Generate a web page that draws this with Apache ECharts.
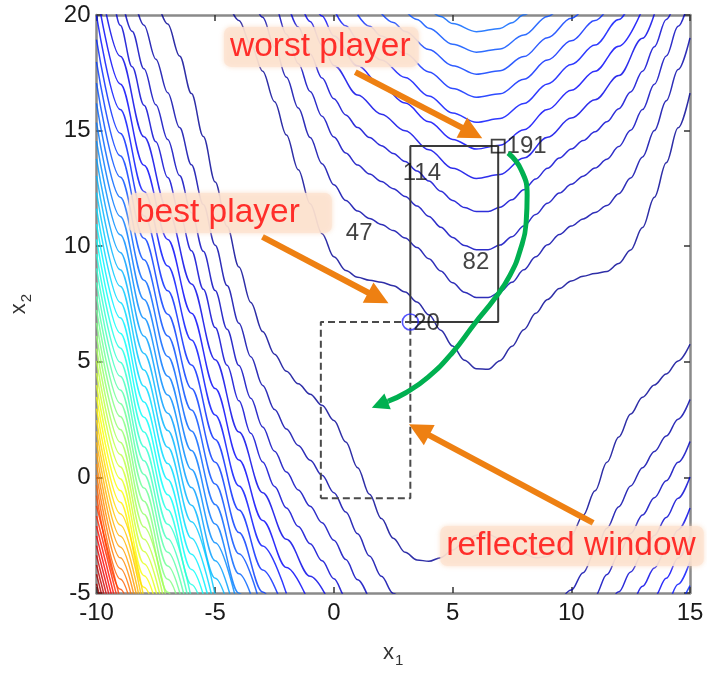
<!DOCTYPE html>
<html>
<head>
<meta charset="utf-8">
<script src="https://cdn.jsdelivr.net/npm/echarts@6/dist/echarts.min.js"></script>
<style>
  html, body { margin: 0; padding: 0; background: #ffffff; }
  #chart { width: 707px; height: 674px; }
</style>
</head>
<body>
<div id="chart"></div>
<script>
// ---- axes ----
const xTicks = [-10, -5, 0, 5, 10, 15];
const yTicks = [-5, 0, 5, 10, 15, 20];
const levelSteps = 50;           // contour level k is coloured jet(k / levelSteps)

// ---- contour lines: branch above the curved valley (k = level index) ----
const upperBranches = [
  { k: 1, x0: -4.5, dx: 0.5, y: [20.70,19.76,18.73,17.57,16.25,14.81,13.31,11.84,10.54,9.54,8.95,8.66,8.53,8.44,8.29,8.02,7.59,7.03,6.37,5.68,5.07,4.70,4.68,5.05,5.67,6.39,7.10,7.70,8.17,8.50,8.70,8.82,8.91,9.25,9.84,10.81,12.12,13.61,15.12,16.62] },
  { k: 2, x0: -3.5, dx: 0.5, y: [21.08,19.90,18.64,17.31,15.98,14.70,13.57,12.66,11.98,11.52,11.20,10.94,10.68,10.35,9.94,9.46,8.93,8.42,8.01,7.78,7.78,8.02,8.44,8.98,9.54,10.06,10.51,10.87,11.18,11.46,11.76,12.27,12.95,13.86,15.00,16.29,17.64,19.01] },
  { k: 3, x0: -3, dx: 0.5, y: [21.70,20.45,19.17,17.90,16.69,15.62,14.72,14.03,13.51,13.12,12.80,12.49,12.15,11.74,11.29,10.82,10.38,10.03,9.85,9.85,10.05,10.41,10.87,11.37,11.86,12.30,12.68,13.03,13.38,13.76,14.31,15.01,15.91,17.00,18.23,19.51,20.83] },
  { k: 4, x0: -2, dx: 0.5, y: [20.72,19.48,18.31,17.27,16.38,15.68,15.13,14.70,14.35,14.01,13.66,13.25,12.82,12.38,11.98,11.67,11.50,11.50,11.69,12.01,12.44,12.91,13.37,13.81,14.20,14.57,14.95,15.38,15.95,16.67,17.57,18.63,19.81,21.06] },
  { k: 5, pts: [[-1.5,20.87],[-1,19.72],[-0.5,18.69],[0,17.82],[1,16.54],[2,15.71],[3,14.99],[4,14.17],[5,13.37],[6,12.93],[7,13.10],[8,13.81],[9,14.71],[10,15.54],[11,16.33],[12,17.38],[13,18.99],[13.5,20.04]] },
  { k: 6, pts: [[-1,20.98],[-0.5,19.96],[0,19.09],[1,17.80],[2,16.93],[3,16.19],[4,15.38],[5,14.62],[6,14.20],[7,14.37],[8,15.04],[9,15.91],[10,16.75],[11,17.57],[12,18.65],[13,20.26]] },
  { k: 7, pts: [[0,20.25],[0.5,19.53],[1,18.95],[2,18.05],[3,17.30],[4,16.50],[5,15.76],[6,15.36],[7,15.52],[8,16.17],[9,17.02],[10,17.86],[11,18.70],[12,19.80],[12.5,20.54]] },
  { k: 8, pts: [[1,20.01],[1.5,19.51],[2,19.09],[3,18.33],[4,17.54],[5,16.82],[6,16.44],[7,16.59],[8,17.22],[9,18.05],[10,18.89],[11,19.76],[11.5,20.25]] },
  { k: 9, pts: [[2,20.07],[2.5,19.68],[3,19.29],[4,18.51],[5,17.81],[6,17.44],[7,17.59],[8,18.20],[9,19.02],[10,19.86],[10.5,20.29]] },
  { k: 10, pts: [[3,20.21],[3.5,19.81],[4,19.43],[5,18.74],[6,18.39],[7,18.53],[8,19.13],[9,19.94],[9.5,20.36]] },
  { k: 11, pts: [[4,20.30],[4.5,19.94],[5,19.63],[6,19.28],[7,19.42],[7.5,19.67],[8,20.01],[8.5,20.40]] }
];

// ---- contour lines: branch below the valley, left part ----
const lowerLeftFine = [
  { k: 1, x0: -7.5, dx: 0.5, y: [20.86,19.61,18.23,16.60,14.74,12.78,10.86,9.10,7.57,6.31,5.33,4.59,4.05,3.60,3.12,2.46,1.53,0.42,-0.73,-1.78,-2.63,-3.24,-3.57,-3.63,-3.47,-3.14,-2.77,-2.50,-2.46,-2.67,-3.01,-3.31,-3.48,-3.42,-3.09,-2.50,-1.64,-0.58,0.65,1.75,2.74,3.47,4.00,4.47,5.04,5.76] },
  { k: 2, x0: -8.5, dx: 0.5, y: [21.13,19.56,18.09,16.64,15.13,13.52,11.80,10.04,8.30,6.67,5.22,3.98,2.94,2.09,1.38,0.74,0.09,-0.66,-1.50,-2.44,-3.40,-4.28,-5.02,-5.57] },
  { k: 3, x0: -9, dx: 0.5, y: [21.07,19.30,17.67,16.12,14.61,13.06,11.45,9.78,8.08,6.41,4.84,3.42,2.18,1.13,0.23,-0.54,-1.25,-1.96,-2.72,-3.55,-4.43,-5.32] },
  { k: 4, x0: -10, dx: 0.5, y: [23.63,21.51,19.56,17.76,16.10,14.52,12.97,11.41,9.80,8.14,6.48,4.85,3.31,1.91,0.67,-0.39,-1.32,-2.12,-2.87,-3.61,-4.38,-5.20,-6.05] }
];
// x1 = -10, -9, -8, ... for each row below
const lowerLeftCoarse = [
  { k: 5,  y: [22.29,18.22,14.73,11.56,8.37,5.09,1.96,-0.66,-2.68,-4.28,-5.82] },
  { k: 6,  y: [21.08,17.02,13.50,10.29,7.10,3.84,0.75,-1.86,-3.90,-5.54] },
  { k: 7,  y: [19.97,15.91,12.37,9.14,5.94,2.70,-0.37,-2.97,-5.02] },
  { k: 8,  y: [18.94,14.88,11.32,8.07,4.86,1.64,-1.41,-4.00,-6.06] },
  { k: 9,  y: [17.97,13.91,10.34,7.06,3.85,0.65,-2.38,-4.96,-7.04] },
  { k: 10, y: [17.05,12.99,9.41,6.12,2.91,-0.29,-3.30,-5.88] },
  { k: 11, y: [16.18,12.12,8.53,5.23,2.01,-1.17,-4.17,-6.75] },
  { k: 12, y: [15.35,11.29,7.69,4.38,1.16,-2.02,-5.01,-7.59] },
  { k: 13, y: [14.55,10.49,6.88,3.56,0.34,-2.83,-5.81] },
  { k: 14, y: [13.78,9.73,6.11,2.78,-0.44,-3.60,-6.58] },
  { k: 15, y: [13.04,8.98,5.36,2.03,-1.20,-4.36,-7.32] },
  { k: 16, y: [12.32,8.27,4.64,1.30,-1.92,-5.08] },
  { k: 17, y: [11.63,7.57,3.94,0.60,-2.63,-5.78] },
  { k: 18, y: [10.95,6.90,3.26,-0.09,-3.32,-6.46] },
  { k: 19, y: [10.30,6.24,2.60,-0.75,-3.98,-7.12] },
  { k: 20, y: [9.66,5.60,1.96,-1.40,-4.63,-7.77] },
  { k: 21, y: [9.04,4.98,1.33,-2.03,-5.26] },
  { k: 22, y: [8.43,4.37,0.72,-2.65,-5.88] },
  { k: 23, y: [7.83,3.78,0.13,-3.24,-6.48] },
  { k: 24, y: [7.25,3.20,-0.46,-3.83,-7.07] },
  { k: 25, y: [6.68,2.63,-1.03,-4.41,-7.64] },
  { k: 26, y: [6.12,2.07,-1.59,-4.97,-8.21] },
  { k: 27, y: [5.57,1.52,-2.14,-5.53] },
  { k: 28, y: [5.04,0.99,-2.68,-6.07] },
  { k: 29, y: [4.51,0.46,-3.21,-6.60] },
  { k: 30, y: [3.99,-0.06,-3.73,-7.12] },
  { k: 31, y: [3.48,-0.57,-4.25,-7.64] },
  { k: 32, y: [2.97,-1.08,-4.75,-8.15] },
  { k: 33, y: [2.48,-1.57,-5.25] },
  { k: 34, y: [1.99,-2.06,-5.74] },
  { k: 35, y: [1.51,-2.54,-6.22] },
  { k: 36, y: [1.04,-3.01,-6.69] },
  { k: 37, y: [0.57,-3.48,-7.16] },
  { k: 38, y: [0.11,-3.94,-7.62] },
  { k: 39, y: [-0.34,-4.39,-8.08] },
  { k: 40, y: [-0.79,-4.84,-8.52] },
  { k: 41, y: [-1.23,-5.28] },
  { k: 42, y: [-1.67,-5.72] },
  { k: 43, y: [-2.10,-6.15] },
  { k: 44, y: [-2.53,-6.58] },
  { k: 45, y: [-2.95,-7.00] },
  { k: 46, y: [-3.37,-7.42] },
  { k: 47, y: [-3.79,-7.83] },
  { k: 48, y: [-4.19,-8.24] },
  { k: 49, y: [-4.60,-8.65] }
];

// ---- contour lines: branch below the valley, right part ----
const lowerRight = [
  { k: 2, x0: 9.5,  dx: 0.5, y: [-5.43,-4.87,-4.12,-3.22,-2.20,-1.27,-0.37,0.42,1.12,1.79,2.52,3.37] },
  { k: 3, x0: 10.5, dx: 0.5, y: [-5.97,-5.14,-4.20,-3.31,-2.43,-1.63,-0.88,-0.15,0.65,1.55] },
  { k: 4, x0: 11.5, dx: 0.5, y: [-5.82,-4.95,-4.09,-3.29,-2.51,-1.73,-0.90,0.02] },
  { k: 5, x0: 12,   dx: 0.5, y: [-6.38,-5.53,-4.71,-3.92,-3.12,-2.27,-1.32] },
  { k: 6, x0: 13,   dx: 0.5, y: [-5.98,-5.18,-4.36,-3.49,-2.53] },
  { k: 7, x0: 13.5, dx: 0.5, y: [-6.33,-5.50,-4.62,-3.64] },
  { k: 8, x0: 14.5, dx: 0.5, y: [-5.66,-4.68] }
];

// ---- players: [x1, x2, objective value] ----
const players = [
  [3.22, 6.72, 20],
  [6.92, 14.33, 191],
  [2.88, 13.17, 114],
  [5.40, 9.32, 82],
  [0.48, 10.57, 47]
];
// search windows: [lower-left corner, upper-right corner]
const searchWindow    = [[3.22, 6.72], [6.92, 14.33]];
const reflectedWindow = [[-0.55, -0.90], [3.22, 6.72]];

// ---- callouts ----
const noteText = ['worst player', 'best player', 'reflected window'];
const noteAt   = [[-0.53, 18.62], [-4.36, 11.44], [10.03, -2.97]];
const noteArrows = [
  [[0.90, 17.53], [5.82, 14.90]],
  [[-3.01, 10.40], [1.87, 7.76]],
  [[10.92, -1.97], [3.59, 2.06]]
];
// path of the move from the worst player into the reflected window
const movePath = [[7.34,14.03],[7.89,13.30],[8.14,12.21],[8.10,11.05],[7.85,9.84],[7.42,8.75],[6.79,7.76],[5.95,6.68],[4.98,5.38],[3.97,4.34],[3.01,3.65],[2.29,3.30]];
const moveHead = [[2.29, 3.30], [1.93, 3.15]];

// ---------------------------------------------------------------
const FONT = '"Liberation Sans", Arial, Helvetica, sans-serif';

function jet(t) {
  const c = v => Math.round(255 * Math.max(0, Math.min(1, v)));
  return 'rgb(' + c(1.5 - Math.abs(4 * t - 3)) + ',' + c(1.5 - Math.abs(4 * t - 2)) + ',' + c(1.5 - Math.abs(4 * t - 1)) + ')';
}

function branchPoints(b) {
  if (b.pts) return b.pts;
  const x0 = b.x0 === undefined ? -10 : b.x0;
  const dx = b.dx === undefined ? 1 : b.dx;
  return b.y.map((v, i) => [x0 + i * dx, v]);
}

const contourSeries = [];
[upperBranches, lowerLeftFine, lowerLeftCoarse, lowerRight].forEach(group => {
  group.forEach(b => {
    contourSeries.push({
      type: 'line',
      data: branchPoints(b),
      showSymbol: false,
      symbol: 'none',
      smooth: 0.35,
      smoothMonotone: 'x',
      clip: true,
      silent: true,
      animation: false,
      z: 2,
      lineStyle: { width: 1.5, color: jet(b.k / levelSteps), opacity: 0.82 }
    });
  });
});

function rectPath(w) {
  const [a, b] = w;
  return [[a[0], a[1]], [b[0], a[1]], [b[0], b[1]], [a[0], b[1]], [a[0], a[1]]];
}

const values = players.map(p => p[2]);
const bestIdx = values.indexOf(Math.min(...values));
const worstIdx = values.indexOf(Math.max(...values));

// best player: open blue circle; worst player: open black square; others: value text only
const playerData = players.map((p, i) => {
  if (i === bestIdx) {
    return {
      value: p, symbol: 'circle', symbolSize: 16,
      itemStyle: { color: 'rgba(0,0,0,0)', borderColor: '#2b2bff', borderWidth: 1.6 },
      label: { distance: 0, offset: [-6, 1] }
    };
  }
  if (i === worstIdx) {
    return {
      value: p, symbol: 'rect', symbolSize: 13,
      itemStyle: { color: 'rgba(0,0,0,0)', borderColor: '#111', borderWidth: 1.8 },
      label: { distance: 1, offset: [0, 0] }
    };
  }
  return {
    value: p, symbol: 'circle', symbolSize: 1,
    itemStyle: { color: 'rgba(0,0,0,0)', borderWidth: 0 },
    label: { distance: 0, offset: [0, 0] }
  };
});

const axisLineStyle = { color: '#8a8a8a', width: 2.5 };
const tickStyle = { inside: true, length: 6, lineStyle: { color: '#333', width: 1.5 } };

function arrowLine(color, width, headSize, pairs) {
  return {
    silent: true, animation: false,
    symbol: ['none', 'triangle'], symbolSize: headSize,
    lineStyle: { color: color, width: width, type: 'solid' },
    itemStyle: { color: color },
    label: { show: false },
    emphasis: { disabled: true },
    data: pairs.map(a => [{ coord: a[0] }, { coord: a[1] }])
  };
}

const option = {
  animation: false,
  backgroundColor: '#ffffff',
  grid: { left: 96, top: 15, width: 594, height: 578, containLabel: false },
  xAxis: [
    {
      type: 'value', min: xTicks[0], max: xTicks[xTicks.length - 1], interval: 5, position: 'bottom',
      axisLine: { show: true, onZero: false, lineStyle: axisLineStyle },
      axisTick: tickStyle,
      splitLine: { show: false },
      axisLabel: { fontSize: 24, color: '#1a1a1a', margin: 8, fontFamily: FONT },
      name: '{i|x}{s|1}', nameLocation: 'middle', nameGap: 44,
      nameTextStyle: { fontFamily: FONT, color: '#333', rich: {
        i: { fontSize: 22, fontFamily: FONT, color: '#333' },
        s: { fontSize: 15, fontFamily: FONT, color: '#333', padding: [16, 0, 0, 1] }
      } }
    },
    {
      type: 'value', min: xTicks[0], max: xTicks[xTicks.length - 1], interval: 5, position: 'top',
      axisLine: { show: true, onZero: false, lineStyle: axisLineStyle },
      axisTick: tickStyle, axisLabel: { show: false }, splitLine: { show: false }
    }
  ],
  yAxis: [
    {
      type: 'value', min: yTicks[0], max: yTicks[yTicks.length - 1], interval: 5, position: 'left',
      axisLine: { show: true, onZero: false, lineStyle: axisLineStyle },
      axisTick: tickStyle,
      splitLine: { show: false },
      axisLabel: { fontSize: 24, color: '#1a1a1a', margin: 6, fontFamily: FONT },
      name: '{i|x}{s|2}', nameLocation: 'middle', nameGap: 62, nameRotate: 90,
      nameTextStyle: { fontFamily: FONT, color: '#333', rich: {
        i: { fontSize: 22, fontFamily: FONT, color: '#333' },
        s: { fontSize: 15, fontFamily: FONT, color: '#333', padding: [16, 0, 0, 1] }
      } }
    },
    {
      type: 'value', min: yTicks[0], max: yTicks[yTicks.length - 1], interval: 5, position: 'right',
      axisLine: { show: true, onZero: false, lineStyle: axisLineStyle },
      axisTick: tickStyle, axisLabel: { show: false }, splitLine: { show: false }
    }
  ],
  series: contourSeries.concat([
    {
      name: 'window', type: 'line', data: rectPath(searchWindow), showSymbol: false, symbol: 'none',
      silent: true, z: 3, lineStyle: { color: '#3a3a3a', width: 2 }
    },
    {
      name: 'reflected', type: 'line', data: rectPath(reflectedWindow), showSymbol: false, symbol: 'none',
      silent: true, z: 3, lineStyle: { color: '#4a4a4a', width: 2, type: [7, 4] }
    },
    {
      name: 'players', type: 'scatter', data: playerData, silent: true, z: 4,
      label: {
        show: true, position: 'right', formatter: p => String(p.value[2]),
        fontSize: 24, color: '#111', fontFamily: FONT
      }
    },
    {
      name: 'move', type: 'line', data: movePath, showSymbol: false, symbol: 'none', smooth: 0.5,
      silent: true, z: 5, lineStyle: { color: '#00b050', width: 5 },
      markLine: arrowLine('#00b050', 5, 17, [moveHead])
    },
    {
      name: 'notes', type: 'scatter', symbolSize: 0, silent: true, z: 6,
      data: noteText.map((t, i) => ({
        value: [noteAt[i][0], noteAt[i][1], t],
        label: { padding: i === 1 ? [3, 32, 3, 7] : [3, 8, 3, 6] }
      })),
      label: {
        show: true, position: 'inside', formatter: p => p.value[2],
        fontSize: 33.5, color: '#ff0000', fontFamily: FONT,
        backgroundColor: '#fce3d2', borderRadius: 7,
        shadowColor: 'rgba(250,210,180,0.9)', shadowBlur: 5
      },
      markLine: arrowLine('#ee8012', 6, 23, noteArrows)
    }
  ])
};

const chart = echarts.init(document.getElementById('chart'), null, { renderer: 'canvas' });
chart.setOption(option);
</script>
</body>
</html>
